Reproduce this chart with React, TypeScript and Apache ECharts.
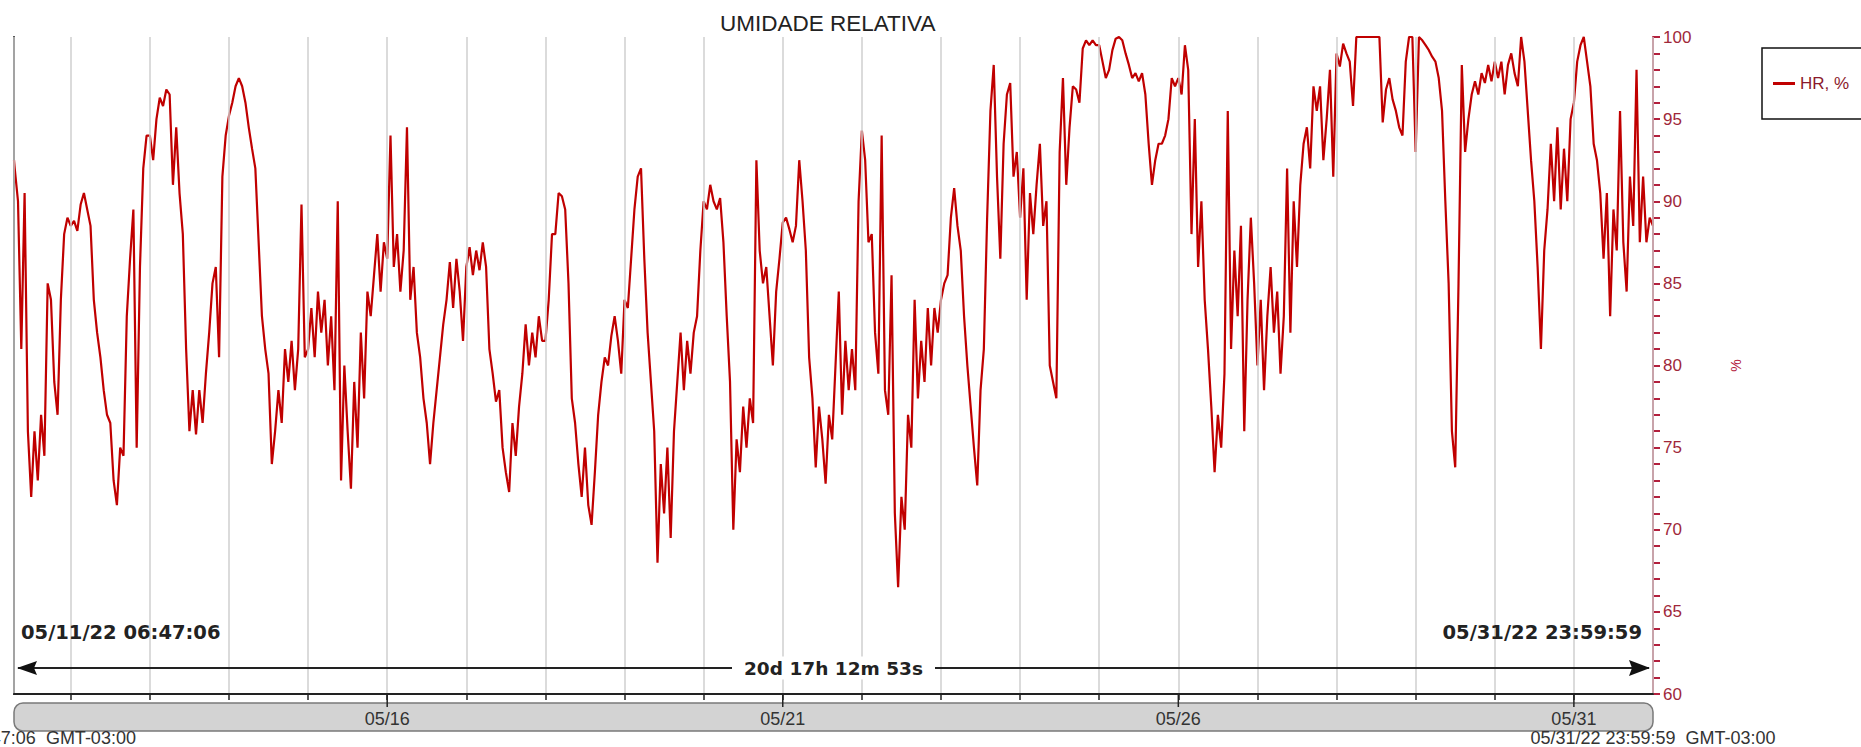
import React, { useEffect, useRef } from "react";
import * as echarts from "echarts";

const TITLE = "UMIDADE RELATIVA";
const SERIES_NAME = "HR, %";
const Y_NAME = "%";
const YEAR = 2022;
const MONTH = 4; // May (0-based)
const START = Date.UTC(2022, 4, 11, 6, 47, 6);
const END = Date.UTC(2022, 4, 31, 23, 59, 59);
const START_LABEL = "05/11/22 06:47:06";
const END_LABEL = "05/31/22 23:59:59";
const DURATION_LABEL = "20d 17h 12m 53s";
const TZ_LABEL = "GMT-03:00";
const START_VALUE = 92.5;
const END_VALUE = 88.5;
const FIRST_HOUR = 7;
const Y_MIN = 60;
const Y_MAX = 100;
const Y_INTERVAL = 5;

const DAYS = [11, 12, 13, 14, 15, 16, 17, 18, 19, 20, 21, 22, 23, 24, 25, 26, 27, 28, 29, 30, 31];
const MAJOR_DAYS = [16, 21, 26, 31];
const MAJOR_LABELS = ["05/16", "05/21", "05/26", "05/31"];

// hourly readings (05/11 starts at 07:00, the others at 00:00)
const d11 = [92, 90, 81, 90.5, 76, 72, 76, 73, 77, 74.5, 85, 84, 79, 77, 84, 88, 89];
const d12 = [88.5, 88.8, 88.2, 89.8, 90.5, 89.5, 88.5, 84, 82, 80.5, 78.5, 77, 76.5, 73, 71.5, 75, 74.5, 83, 86.5, 89.5, 75, 86, 92, 94];
const d13 = [94, 92.5, 95, 96.3, 95.8, 96.8, 96.5, 91, 94.5, 90.5, 88, 81, 76, 78.5, 75.8, 78.5, 76.5, 79.5, 82, 85, 86, 80.5, 91.5, 94];
const d14 = [95.2, 96, 97, 97.5, 97, 96, 94.5, 93.2, 92, 87.5, 83, 81, 79.5, 74, 76, 78.5, 76.5, 81, 79, 81.5, 78.5, 81, 89.8, 80.5];
const d15 = [81, 83.5, 80.5, 84.5, 82, 84, 80, 83, 78.5, 90, 73, 80, 76, 72.5, 79, 75, 82, 78, 84.5, 83, 85.5, 88, 84.5, 87.5];
const d16 = [86.5, 94, 86, 88, 84.5, 87, 94.5, 84, 86, 82, 80.5, 78, 76.5, 74, 76.5, 78.5, 80.5, 82.5, 84, 86.3, 83.5, 86.5, 84.5, 81.5];
const d17 = [86, 87.2, 85.5, 87, 85.8, 87.5, 86, 81, 79.5, 77.8, 78.5, 75, 73.5, 72.3, 76.5, 74.5, 77.5, 79.5, 82.5, 80, 82, 80.5, 83, 81.5];
const d18 = [81.5, 84, 88, 88, 90.5, 90.3, 89.5, 85, 78, 76.5, 74, 72, 75, 71.5, 70.3, 73.5, 77, 79, 80.5, 80, 81.8, 83, 81.5, 79.5];
const d19 = [84, 83.5, 86.5, 89.5, 91.5, 92, 86.5, 82, 79, 76, 68, 74, 71, 75, 69.5, 76, 79, 82, 78.5, 81.5, 79.5, 82, 83, 87];
const d20 = [90, 89.5, 91, 90, 89.5, 90.2, 87.5, 83, 79, 70, 75.5, 73.5, 77.5, 75, 78, 76.5, 92.5, 87, 85, 86, 83, 80, 84.5, 86.5];
const d21 = [88.7, 89, 88.3, 87.5, 88.5, 92.5, 90, 87, 80.5, 78, 73.8, 77.5, 75.5, 72.8, 77, 75.5, 80, 84.5, 77, 81.5, 78.5, 81, 78.5, 90];
const d22 = [94.3, 92.5, 87.5, 88, 82, 79.5, 94, 78.5, 77, 85.5, 71, 66.5, 72, 70, 77, 75, 84, 78, 81.5, 79, 83.5, 80, 83.5, 82];
const d23 = [84, 85, 85.5, 89, 90.8, 88.5, 87, 83, 80, 77.5, 75, 72.7, 78.5, 81, 89, 95.5, 98.3, 91.5, 86.5, 93.5, 96.5, 97.2, 91.5, 93];
const d24 = [89, 92, 84, 90.5, 88, 91, 93.5, 88.5, 90, 80, 79, 78, 93, 97.5, 91, 94.5, 97, 96.8, 96, 99.3, 99.8, 99.5, 99.8, 99.5];
const d25 = [99.5, 98.5, 97.5, 98, 99.2, 99.9, 100, 99.8, 99, 98.3, 97.5, 97.8, 97.3, 97.8, 96.5, 93.5, 91, 92.5, 93.5, 93.5, 94, 95, 97.5, 97];
const d26 = [97.5, 96.5, 99.5, 98, 88, 95, 86, 90, 84, 81, 77.5, 73.5, 77, 75, 79.5, 95.5, 81, 87, 83, 88.5, 76, 84, 89, 85];
const d27 = [80, 84, 78.5, 83, 86, 82, 84.5, 79.5, 83, 92, 82, 90, 86, 91, 93.5, 94.5, 92, 97, 95.5, 97, 92.5, 95, 98, 91.5];
const d28 = [99, 98.2, 99.6, 99, 98.5, 95.8, 100, 100, 100, 100, 100, 100, 100, 100, 94.8, 96.8, 97.5, 96.2, 95.5, 94.5, 94, 98.5, 100, 100];
const d29 = [93, 100, 99.8, 99.5, 99.2, 98.8, 98.5, 97.5, 95.5, 90, 85, 76, 73.8, 85, 98.3, 93, 95, 96.5, 97.3, 96.5, 97.8, 97.2, 98.3, 97.3];
const d30 = [98.5, 97.5, 98.5, 96.5, 98.3, 99, 97.8, 97, 100, 98.5, 95.5, 92.5, 90, 86, 81, 87, 89.5, 93.5, 90, 94.5, 89.5, 93.2, 90, 95];
const d31 = [96, 98.5, 99.5, 100, 98.5, 97, 93.5, 92.5, 90.5, 86.5, 90.5, 83, 89.5, 87, 95.5, 87.5, 84.5, 91.5, 88.5, 98, 87.5, 91.5, 87.5, 89];

const HOURLY = [d11, d12, d13, d14, d15, d16, d17, d18, d19, d20, d21, d22, d23, d24, d25, d26, d27, d28, d29, d30, d31];

const RED = "#c00000";
const AXIS_RED = "#b3203d";

function buildSeries(): [number, number][] {
  const out: [number, number][] = [[START, START_VALUE]];
  HOURLY.forEach((vals, i) => {
    const first = i === 0 ? FIRST_HOUR : 0;
    vals.forEach((v, j) => {
      out.push([Date.UTC(YEAR, MONTH, DAYS[i], first + j), v]);
    });
  });
  out.push([END, END_VALUE]);
  return out;
}

const MAJOR_TIMES = MAJOR_DAYS.map((d) => Date.UTC(YEAR, MONTH, d));

export default function App() {
  const ref = useRef<HTMLDivElement>(null);
  useEffect(() => {
    if (!ref.current) return;
    const chart = echarts.init(ref.current, undefined, { renderer: "svg" });
    const plotL = 14, plotR = 1653, plotT = 37, plotB = 694;
    const option: any = {
      animation: false,
      useUTC: true,
      backgroundColor: "#ffffff",
      textStyle: { fontFamily: "Liberation Sans" },
      title: {
        text: TITLE,
        left: 720,
        top: 12,
        padding: 0,
        textStyle: { fontSize: 22.5, fontWeight: "normal", color: "#222", fontFamily: "Liberation Sans" },
      },
      legend: {
        data: [SERIES_NAME],
        left: 1762,
        top: 48,
        orient: "vertical",
        icon: "rect",
        itemWidth: 22,
        itemHeight: 3,
        padding: [27, 60, 27, 11],
        borderColor: "#111",
        borderWidth: 1.5,
        textStyle: { color: "#8b1a2b", fontSize: 17, fontFamily: "Liberation Sans" },
      },
      grid: { left: plotL, right: 1861 - plotR, top: plotT, bottom: 747 - plotB, containLabel: false },
      xAxis: {
        type: "time",
        min: START,
        max: END,
        splitNumber: 21,
        minInterval: 86400000,
        maxInterval: 86400000,
        z: 20,
        axisLine: { show: true, lineStyle: { color: "#222", width: 2 } },
        axisTick: { show: true, length: 6, lineStyle: { color: "#222", width: 1.5 } },
        splitLine: { show: true, lineStyle: { color: "#cfcfcf", width: 1.5 } },
        axisLabel: {
          color: "#333",
          fontSize: 18,
          fontFamily: "Liberation Sans",
          margin: 16,
          hideOverlap: false,
          formatter: (val: number) => {
            const idx = MAJOR_TIMES.indexOf(val);
            return idx >= 0 ? MAJOR_LABELS[idx] : "";
          },
        },
      },
      yAxis: [
        {
          type: "value",
          position: "right",
          min: Y_MIN,
          max: Y_MAX,
          interval: Y_INTERVAL,
          name: Y_NAME,
          nameLocation: "middle",
          nameGap: 76,
          nameTextStyle: { color: AXIS_RED, fontSize: 14 },
          axisLine: { show: true, lineStyle: { color: AXIS_RED, width: 2 } },
          axisTick: { show: true, length: 7, lineStyle: { color: AXIS_RED, width: 2 } },
          minorTick: { show: true, splitNumber: 5, length: 7, lineStyle: { color: AXIS_RED, width: 2 } },
          splitLine: { show: false },
          axisLabel: { color: "#a0283a", fontSize: 17, margin: 10, fontFamily: "Liberation Sans" },
        },
        {
          type: "value",
          position: "left",
          min: Y_MIN,
          max: Y_MAX,
          axisLine: { show: true, lineStyle: { color: "#222", width: 2 } },
          axisTick: { show: false },
          axisLabel: { show: false },
          splitLine: { show: false },
        },
      ],
      series: [
        {
          name: SERIES_NAME,
          type: "line",
          yAxisIndex: 0,
          data: buildSeries(),
          showSymbol: false,
          symbol: "none",
          lineStyle: { color: RED, width: 2.2 },
          itemStyle: { color: RED },
          z: 3,
        },
        {
          name: "ticks",
          type: "custom",
          yAxisIndex: 0,
          silent: true,
          clip: false,
          z: 30,
          data: MAJOR_TIMES.map((t) => [t, Y_MIN]),
          encode: { x: 0, y: 1 },
          renderItem: (_p: any, api: any) => {
            const p = api.coord([api.value(0), api.value(1)]);
            return {
              type: "line",
              shape: { x1: p[0], y1: p[1], x2: p[0], y2: p[1] + 13 },
              style: { stroke: "#222", lineWidth: 1.5 },
            };
          },
        },
      ],
      graphic: [
        {
          type: "rect",
          z: -5,
          shape: { x: plotL, y: 703, width: plotR - plotL, height: 28, r: 9 },
          style: { fill: "#d3d3d3", stroke: "#7a7a7a", lineWidth: 1.5 },
        },
        {
          type: "text",
          x: plotL,
          y: 738,
          style: { text: START_LABEL + "  " + TZ_LABEL, align: "center", verticalAlign: "middle", font: '18px "Liberation Sans"', fill: "#333" },
        },
        {
          type: "text",
          x: plotR,
          y: 738,
          style: { text: END_LABEL + "  " + TZ_LABEL, align: "center", verticalAlign: "middle", font: '18px "Liberation Sans"', fill: "#333" },
        },
        {
          type: "text",
          x: 21,
          y: 632,
          z: 40,
          style: { text: START_LABEL, align: "left", verticalAlign: "middle", font: 'bold 19.5px "DejaVu Sans"', fill: "#222" },
        },
        {
          type: "text",
          x: 1642,
          y: 632,
          z: 40,
          style: { text: END_LABEL, align: "right", verticalAlign: "middle", font: 'bold 19.5px "DejaVu Sans"', fill: "#222" },
        },
        {
          type: "line",
          z: 40,
          shape: { x1: plotL + 4, y1: 668, x2: plotR - 4, y2: 668 },
          style: { stroke: "#222", lineWidth: 2 },
        },
        {
          type: "polygon",
          z: 41,
          shape: { points: [[plotL + 3, 668], [plotL + 23, 661], [plotL + 20, 668], [plotL + 23, 675]] },
          style: { fill: "#111" },
        },
        {
          type: "polygon",
          z: 41,
          shape: { points: [[plotR - 3, 668], [plotR - 24, 660], [plotR - 21, 668], [plotR - 24, 676]] },
          style: { fill: "#111" },
        },
        {
          type: "text",
          x: (plotL + plotR) / 2,
          y: 668,
          z: 42,
          style: {
            text: DURATION_LABEL,
            align: "center",
            verticalAlign: "middle",
            font: 'bold 18.5px "DejaVu Sans"',
            fill: "#222",
            backgroundColor: "#ffffff",
            padding: [2, 12],
          },
        },
      ],
    };
    chart.setOption(option);
    return () => chart.dispose();
  }, []);
  return (
    <div
      ref={ref}
      style={{ position: "fixed", left: 0, top: 0, width: "1861px", height: "747px", background: "#fff" }}
    />
  );
}
